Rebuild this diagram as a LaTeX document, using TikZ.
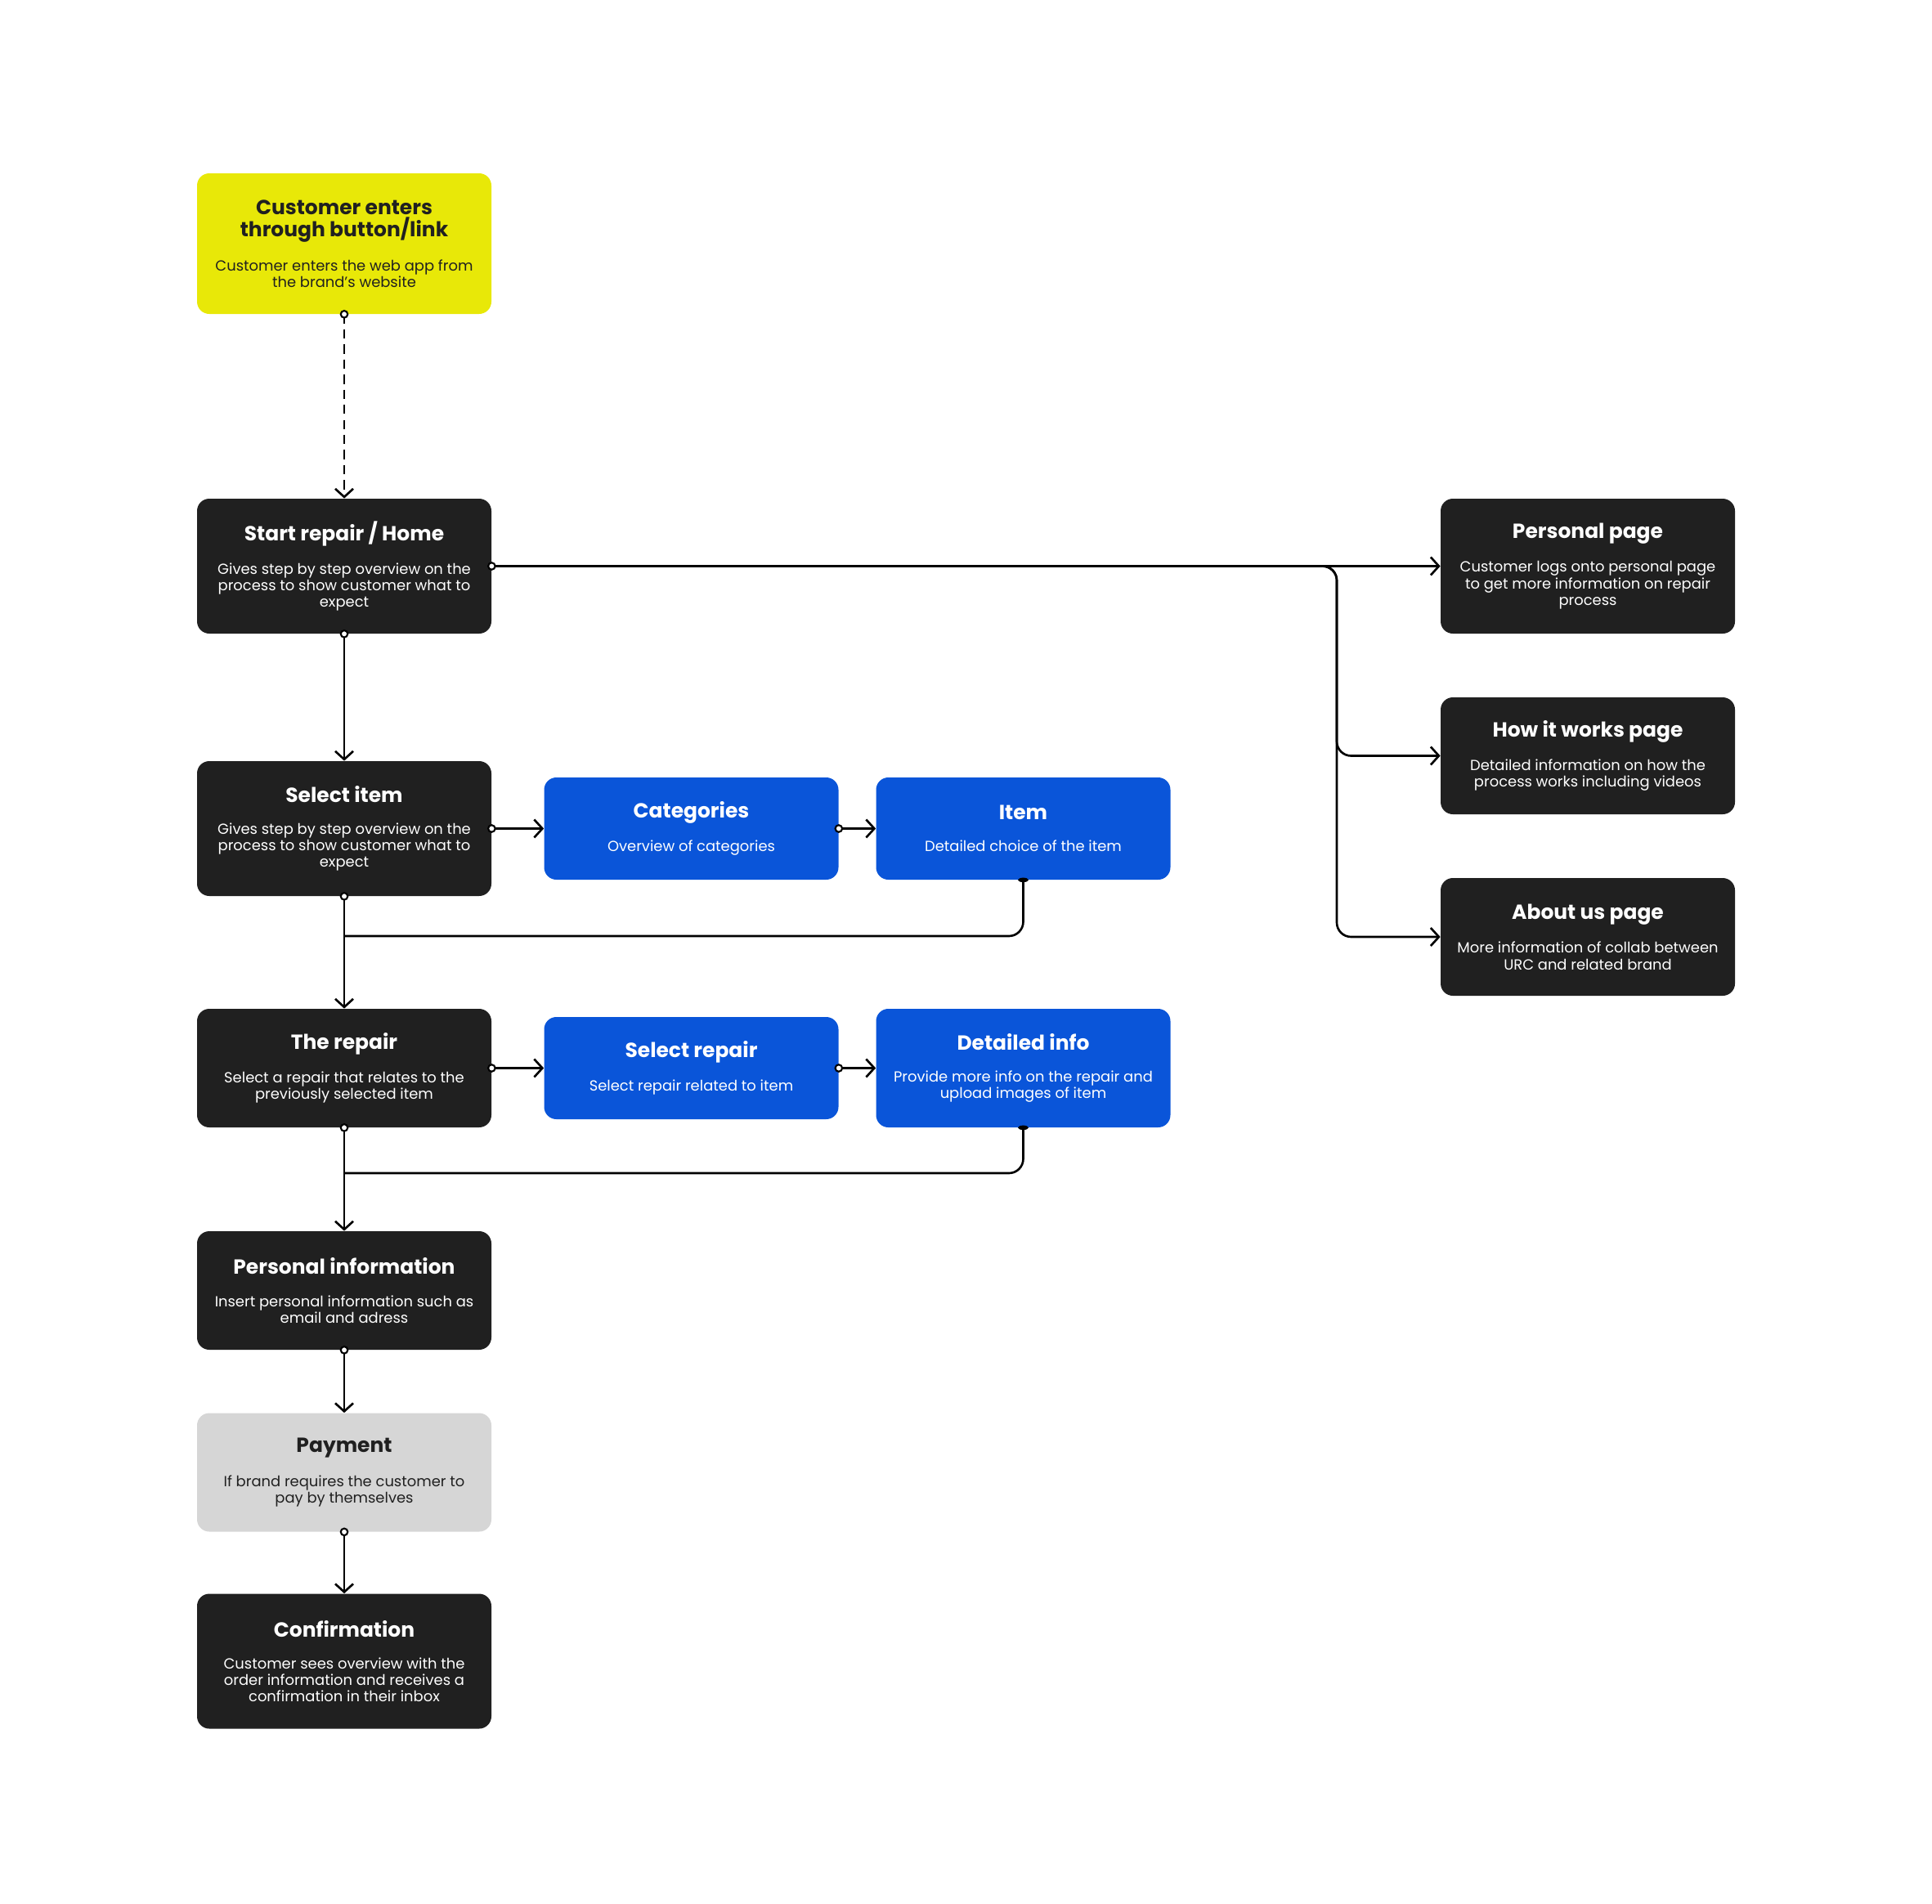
\documentclass[tikz,border=0pt]{standalone}
\usepackage{fontspec}
\setmainfont{Poppins}
\usepackage{xcolor}
\usetikzlibrary{arrows.meta, positioning}

\definecolor{cardblack}{HTML}{202020}
\definecolor{cardyellow}{HTML}{E8E808}
\definecolor{cardblue}{HTML}{0A55D9}
\definecolor{cardgray}{HTML}{D6D6D6}

\newcommand{\ttlfont}{\fontsize{14.2}{16}\selectfont\bfseries}
\newcommand{\dscfont}{\fontsize{10.2}{11.4}\selectfont}
\newcommand{\cardtext}[2]{{\ttlfont #1}\\[11pt]#2}

\begin{document}
\begin{tikzpicture}[
  card/.style={rectangle, rounded corners=0.3cm, fill=cardblack, text=white, minimum width=7.2cm, minimum height=3.3cm, align=center, font=\dscfont, inner sep=0pt},
  bluecard/.style={card, fill=cardblue, minimum height=2.5cm},
  yellowcard/.style={card, fill=cardyellow, text=cardblack, minimum height=3.44cm},
  graycard/.style={card, fill=cardgray, text=cardblack, minimum height=2.9cm},
  link/.style={-{Straight Barb[length=2mm, width=4.4mm]}, line width=1.5pt, draw=black},
  dashlink/.style={link, dash pattern=on 6.5pt off 4pt},
  joinline/.style={line width=1.5pt, rounded corners=0.35cm},
  startdot/.style={draw=black, fill=white, line width=1.2pt}
]
\useasboundingbox (0,0) rectangle (47.26,-46.56);
\node[yellowcard] (entry) at (8.42,-5.96) {{\ttlfont Customer enters}\\[1pt]\cardtext{through button/link}{Customer enters the web app from\\the brand’s website}};
\node[card] (home) at (8.42,-13.85) {\cardtext{Start repair / Home}{Gives step by step overview on the\\process to show customer what to\\expect}};
\node[card] (select) at (8.42,-20.27) {\cardtext{Select item}{Gives step by step overview on the\\process to show customer what to\\expect}};
\node[bluecard] (categories) at (16.91,-20.27) {\cardtext{Categories}{Overview of categories}};
\node[bluecard] (item) at (25.03,-20.27) {\cardtext{Item}{Detailed choice of the item}};
\node[card, minimum height=2.9cm] (repair) at (8.42,-26.13) {\cardtext{The repair}{Select a repair that relates to the\\previously selected item}};
\node[bluecard] (selrepair) at (16.91,-26.13) {\cardtext{Select repair}{Select repair related to item}};
\node[bluecard, minimum height=2.9cm] (detinfo) at (25.03,-26.13) {\cardtext{Detailed info}{Provide more info on the repair and\\upload images of item}};
\node[card, minimum height=2.9cm] (persinfo) at (8.42,-31.57) {\cardtext{Personal information}{Insert personal information such as\\email and adress}};
\node[graycard] (payment) at (8.42,-36.02) {\cardtext{Payment}{If brand requires the customer to\\pay by themselves}};
\node[card] (confirm) at (8.42,-40.64) {\cardtext{Confirmation}{Customer sees overview with the\\order information and receives a\\confirmation in their inbox}};
\node[card] (perspage) at (38.84,-13.85) {\cardtext{Personal page}{Customer logs onto personal page\\to get more information on repair\\process}};
\node[card, minimum height=2.86cm] (howpage) at (38.84,-18.49) {\cardtext{How it works page}{Detailed information on how the\\process works including videos}};
\node[card, minimum height=2.88cm] (aboutpage) at (38.84,-22.92) {\cardtext{About us page}{More information of collab between\\URC and related brand}};
\coordinate (bus) at (32.7,-16.0);
\coordinate (join1) at (8.42,-22.9);
\coordinate (join2) at (8.42,-28.7);
\draw[dashlink] (entry.south) -- (home.north);
\draw[link] (home.south) -- (select.north);
\draw[link] (home.east) -- (perspage.west);
\draw[link, rounded corners=0.35cm] (home.east) -| (bus) |- (howpage.west);
\draw[link, rounded corners=0.35cm] (home.east) -| (bus) |- (aboutpage.west);
\draw[link] (select.east) -- (categories.west);
\draw[link] (categories.east) -- (item.west);
\draw[joinline] (item.south) |- (join1);
\draw[link] (select.south) -- (repair.north);
\draw[link] (repair.east) -- (selrepair.west);
\draw[link] (selrepair.east) -- (detinfo.west);
\draw[joinline] (detinfo.south) |- (join2);
\draw[link] (repair.south) -- (persinfo.north);
\draw[link] (persinfo.south) -- (payment.north);
\draw[link] (payment.south) -- (confirm.north);
\foreach \p in {entry.south, home.south, home.east, select.east, select.south, categories.east, repair.east, repair.south, selrepair.east, persinfo.south, payment.south}
  \draw[startdot] (\p) circle (0.085);
\fill (item.south) ellipse (0.13 and 0.055);
\fill (detinfo.south) ellipse (0.13 and 0.055);
\end{tikzpicture}
\end{document}
